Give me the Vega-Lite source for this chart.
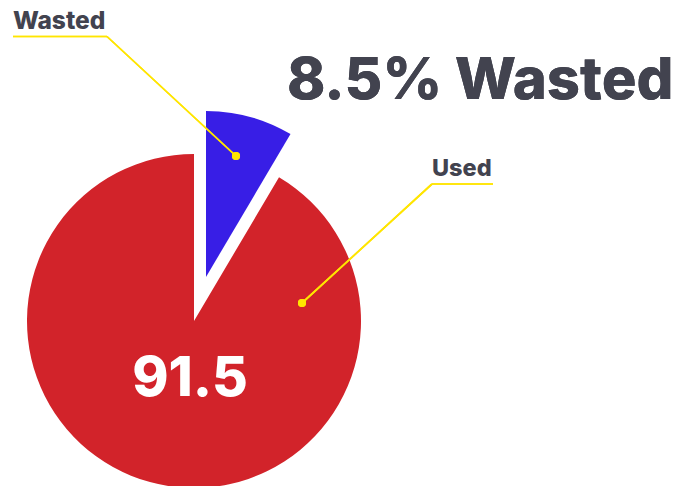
{
  "$schema": "https://vega.github.io/schema/vega-lite/v6.json",
  "width": 388,
  "height": 330,
  "autosize": "none",
  "padding": {"left": 0, "top": 156, "right": 286, "bottom": 0},
  "background": "white",
  "view": {"stroke": null},
  "config": {"text": {"font": "Inter", "fontWeight": 800}},
  "data": {"values": [
    {"category": "Wasted", "value": 8.5, "order": 1},
    {"category": "Used", "value": 91.5, "order": 2}
  ]},
  "transform": [
    {"stack": "value", "groupby": [], "sort": [{"field": "order", "order": "ascending"}], "as": ["v0", "v1"]}
  ],
  "layer": [
    {
      "transform": [{"filter": "datum.category === 'Used'"}],
      "mark": {"type": "arc", "outerRadius": 167},
      "encoding": {
        "theta": {"field": "v0", "type": "quantitative", "scale": {"domain": [0, 100]}},
        "theta2": {"field": "v1"},
        "color": {"field": "category", "type": "nominal", "scale": {"domain": ["Wasted", "Used"], "range": ["#381EE6", "#D2232A"]}, "legend": null}
      }
    },
    {
      "transform": [{"filter": "datum.category === 'Wasted'"}],
      "mark": {"type": "arc", "outerRadius": 166, "xOffset": 12, "yOffset": -44},
      "encoding": {
        "theta": {"field": "v0", "type": "quantitative", "scale": {"domain": [0, 100]}},
        "theta2": {"field": "v1"},
        "color": {"field": "category", "type": "nominal", "legend": null}
      }
    },
    {
      "mark": {"type": "rule", "color": "#FFE500", "strokeWidth": 1.7},
      "encoding": {"x": {"value": 13}, "y": {"value": -119.5}, "x2": {"value": 107}, "y2": {"value": -119.5}}
    },
    {
      "mark": {"type": "rule", "color": "#FFE500", "strokeWidth": 1.7},
      "encoding": {"x": {"value": 107}, "y": {"value": -119.5}, "x2": {"value": 236}, "y2": {"value": 0}}
    },
    {
      "mark": {"type": "rule", "color": "#FFE500", "strokeWidth": 1.7},
      "encoding": {"x": {"value": 432}, "y": {"value": 28}, "x2": {"value": 493}, "y2": {"value": 28}}
    },
    {
      "mark": {"type": "rule", "color": "#FFE500", "strokeWidth": 1.7},
      "encoding": {"x": {"value": 432}, "y": {"value": 28}, "x2": {"value": 302}, "y2": {"value": 147}}
    },
    {
      "mark": {"type": "point", "filled": true, "size": 66, "color": "#FFE500", "opacity": 1},
      "encoding": {"x": {"value": 236}, "y": {"value": 0}}
    },
    {
      "mark": {"type": "point", "filled": true, "size": 66, "color": "#FFE500", "opacity": 1},
      "encoding": {"x": {"value": 302}, "y": {"value": 147}}
    },
    {
      "transform": [{"filter": "datum.category === 'Wasted'"}],
      "mark": {"type": "text", "x": 13, "y": -126.7, "align": "left", "baseline": "alphabetic", "fontSize": 24.5, "color": "#42434F"},
      "encoding": {"text": {"field": "category"}}
    },
    {
      "transform": [{"filter": "datum.category === 'Used'"}],
      "mark": {"type": "text", "x": 432, "y": 20, "align": "left", "baseline": "alphabetic", "fontSize": 23.5, "color": "#42434F"},
      "encoding": {"text": {"field": "category"}}
    },
    {
      "mark": {"type": "text", "x": 287, "y": -57, "align": "left", "baseline": "alphabetic", "fontSize": 58, "color": "#42434F", "text": "8.5% Wasted"},
      "encoding": {}
    },
    {
      "transform": [{"filter": "datum.category === 'Used'"}],
      "mark": {"type": "text", "x": 190, "y": 240, "align": "center", "baseline": "alphabetic", "fontSize": 55, "color": "white"},
      "encoding": {"text": {"field": "value", "type": "quantitative", "format": ".1f"}}
    }
  ]
}
